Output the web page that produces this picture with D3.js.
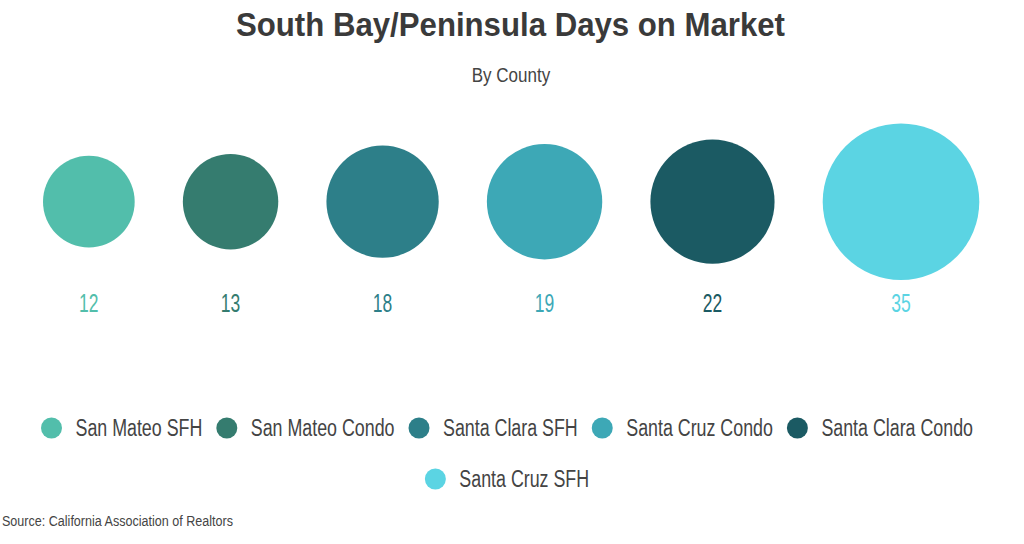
<!DOCTYPE html>
<html>
<head>
<meta charset="utf-8">
<script src="https://cdn.jsdelivr.net/npm/d3@7"></script>
<style>
  html, body { margin: 0; padding: 0; background: #fff; }
  svg { display: block; }
  text { font-family: "Liberation Sans", Arial, sans-serif; }
</style>
</head>
<body>
<svg id="chart" width="1024" height="544"></svg>
<script>
// ---- data ----
const categories = ["San Mateo SFH", "San Mateo Condo", "Santa Clara SFH", "Santa Cruz Condo", "Santa Clara Condo", "Santa Cruz SFH"];
const values = [12, 13, 18, 19, 22, 35];
const palette = ["#52beab", "#357c6f", "#2d7f89", "#3da8b6", "#1b5a63", "#5bd4e3"];
const titleText = "South Bay/Peninsula Days on Market";
const subtitleText = "By County";
const sourceText = "Source:  California Association of Realtors";

const W = 1024, H = 544;
const svg = d3.select("#chart");

// condense helper: emulate a narrow typeface
function condense(sel, factor) {
  sel.each(function () {
    const w = this.getComputedTextLength();
    d3.select(this).attr("textLength", w * factor).attr("lengthAdjust", "spacingAndGlyphs");
  });
}
function fitWidth(sel, width) {
  sel.attr("textLength", width).attr("lengthAdjust", "spacingAndGlyphs");
}

// ---- titles ----
svg.append("text")
  .attr("x", 510.5).attr("y", 36)
  .attr("text-anchor", "middle")
  .attr("font-size", 34).attr("font-weight", "bold")
  .attr("fill", "#3a3a3a")
  .text(titleText)
  .call(fitWidth, 549);

svg.append("text")
  .attr("x", 511).attr("y", 82)
  .attr("text-anchor", "middle")
  .attr("font-size", 20)
  .attr("fill", "#444")
  .text(subtitleText)
  .call(fitWidth, 78.5);

// ---- bubbles ----
const r = d3.scaleSqrt().domain([0, d3.max(values)]).range([0, 78.3]);
const left = 43, right = 979.3;
const sumD = d3.sum(values, v => 2 * r(v));
const gap = (right - left - sumD) / (values.length - 1);
const cx = [];
let acc = left;
values.forEach(v => { cx.push(acc + r(v)); acc += 2 * r(v) + gap; });
const cy = 201.7;

const data = categories.map((c, i) => ({ cat: c, value: values[i], color: palette[i], x: cx[i] }));

svg.append("g").selectAll("circle")
  .data(data).join("circle")
  .attr("cx", d => d.x).attr("cy", cy)
  .attr("r", d => r(d.value))
  .attr("fill", d => d.color);

svg.append("g").selectAll("text")
  .data(data).join("text")
  .attr("x", d => d.x).attr("y", 312)
  .attr("text-anchor", "middle")
  .attr("font-size", 25)
  .attr("fill", d => d.color)
  .text(d => d.value)
  .call(condense, 0.7);

// ---- legend ----
const legend = svg.append("g");
const mr = 10.5, mGap = 13.5, itemGap = 14, maxRow = 1000, rowH = 51, legendCx = 507, row0 = 428;
const items = legend.selectAll("g.item").data(data).join("g").attr("class", "item");
items.append("circle").attr("r", mr).attr("fill", d => d.color);
items.append("text")
  .attr("x", mr + mGap).attr("y", 7.5)
  .attr("font-size", 23)
  .attr("fill", "#444")
  .text(d => d.cat)
  .call(condense, 0.775);

const widths = [];
items.each(function () {
  const t = d3.select(this).select("text").node();
  widths.push(2 * mr + mGap + (+t.getAttribute("textLength")));
});
// flow into rows
const rows = [[]];
let rowW = 0;
widths.forEach((w, i) => {
  const add = rows[rows.length - 1].length ? itemGap + w : w;
  if (rowW + add > maxRow && rows[rows.length - 1].length) {
    rows.push([i]); rowW = w;
  } else {
    rows[rows.length - 1].push(i); rowW += add;
  }
});
rows.forEach((row, ri) => {
  const total = d3.sum(row, i => widths[i]) + itemGap * (row.length - 1);
  let x = legendCx - total / 2;
  row.forEach(i => {
    d3.select(items.nodes()[i]).attr("transform", `translate(${x + mr},${row0 + ri * rowH})`);
    x += widths[i] + itemGap;
  });
});

// ---- source ----
svg.append("text")
  .attr("x", 2).attr("y", 526)
  .attr("font-size", 14)
  .attr("fill", "#444")
  .text(sourceText)
  .call(fitWidth, 231);
</script>
</body>
</html>
